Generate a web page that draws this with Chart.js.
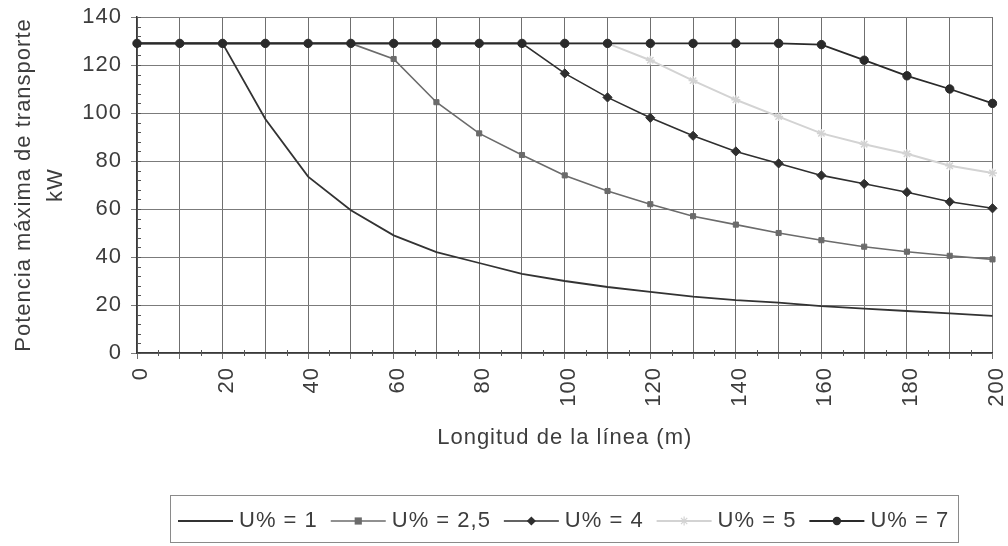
<!DOCTYPE html>
<html>
<head>
<meta charset="utf-8">
<script src="https://cdn.jsdelivr.net/npm/chart.js@4"></script>
<style>
  html, body { margin: 0; padding: 0; background: #fff; }
  canvas { display: block; }
</style>
</head>
<body>
<canvas id="chart" width="1008" height="546"></canvas>
<script>
'use strict';

// Longitud de la línea (m)
const LENGTHS = [0, 10, 20, 30, 40, 50, 60, 70, 80, 90, 100,
                 110, 120, 130, 140, 150, 160, 170, 180, 190, 200];

// Potencia máxima de transporte (kW), one list per voltage drop
const U_1   = [129, 129, 129, 97.5, 73.5, 59.5, 49, 42, 37.5, 33, 30,
               27.5, 25.5, 23.5, 22, 21, 19.5, 18.5, 17.5, 16.5, 15.5];
const U_2_5 = [129, 129, 129, 129, 129, 129, 122.5, 104.5, 91.5, 82.5, 74,
               67.5, 62, 57, 53.5, 50, 47, 44.3, 42.2, 40.5, 39];
const U_4   = [129, 129, 129, 129, 129, 129, 129, 129, 129, 129, 116.5,
               106.5, 98, 90.5, 84, 79, 74, 70.5, 67, 63, 60.3];
const U_5   = [129, 129, 129, 129, 129, 129, 129, 129, 129, 129, 129,
               129, 122, 113.5, 105.5, 98.5, 91.5, 87, 83, 78, 75];
const U_7   = [129, 129, 129, 129, 129, 129, 129, 129, 129, 129, 129,
               129, 129, 129, 129, 129, 128.5, 122, 115.5, 110, 104];

const SERIES_LABELS = ['U% = 1', 'U% = 2,5', 'U% = 4', 'U% = 5', 'U% = 7'];
const X_TITLE = 'Longitud de la línea (m)';
const Y_TITLE = ['Potencia máxima de transporte', 'kW'];
const PLATEAU = 129;

const FONT = '"Liberation Sans", Arial, sans-serif';
const TEXT = '#3d3d3d';

/** Draws one legend marker. */
function drawMarker(ctx, style, r, x, y, color) {
  ctx.save();
  ctx.fillStyle = color;
  ctx.strokeStyle = color;
  ctx.lineWidth = 1.2;
  ctx.beginPath();
  if (style === 'circle') {
    ctx.arc(x, y, r, 0, Math.PI * 2);
    ctx.fill();
  } else if (style === 'rect') {
    ctx.rect(x - r, y - r, r * 2, r * 2);
    ctx.fill();
  } else if (style === 'rectRot') {
    ctx.moveTo(x, y - r); ctx.lineTo(x + r, y); ctx.lineTo(x, y + r); ctx.lineTo(x - r, y);
    ctx.closePath();
    ctx.fill();
  } else if (style === 'star') {
    ctx.moveTo(x - r, y); ctx.lineTo(x + r, y);
    ctx.moveTo(x, y - r); ctx.lineTo(x, y + r);
    ctx.moveTo(x - r * 0.7, y - r * 0.7); ctx.lineTo(x + r * 0.7, y + r * 0.7);
    ctx.moveTo(x - r * 0.7, y + r * 0.7); ctx.lineTo(x + r * 0.7, y - r * 0.7);
    ctx.stroke();
  }
  ctx.restore();
}

/** Excel-like scanned text is loosely spaced */
const spacing = {
  id: 'spacing',
  beforeUpdate(chart) { chart.ctx.letterSpacing = '1px'; },
  beforeDraw(chart) { chart.ctx.letterSpacing = '1px'; },
};

/** Minor tick marks on both axes */
const minorTicks = {
  id: 'minorTicks',
  beforeDatasetsDraw(chart) {
    const { ctx, chartArea, scales: { x, y } } = chart;
    ctx.save();
    ctx.strokeStyle = '#555';
    ctx.lineWidth = 1;
    ctx.beginPath();
    for (let v = 0; v <= 140; v += 4) {
      const py = Math.round(y.getPixelForValue(v)) + 0.5;
      ctx.moveTo(chartArea.left, py);
      ctx.lineTo(chartArea.left + 4, py);
    }
    for (let i = 0; i < LENGTHS.length - 1; i++) {
      const px = Math.round((x.getPixelForValue(i) + x.getPixelForValue(i + 1)) / 2) + 0.5;
      ctx.moveTo(px, chartArea.bottom - 3);
      ctx.lineTo(px, chartArea.bottom + 3);
    }
    ctx.stroke();
    ctx.restore();
  },
};

/** Boxed legend with line + marker samples */
const legendBox = {
  id: 'legendBox',
  afterDraw(chart) {
    const { ctx } = chart;
    ctx.save();
    ctx.strokeStyle = '#8a8a8a';
    ctx.lineWidth = 1;
    ctx.strokeRect(170.5, 495.5, 788, 47);
    ctx.font = '22px ' + FONT;
    ctx.letterSpacing = '1px';
    ctx.textBaseline = 'middle';
    ctx.textAlign = 'left';
    const y = 521;
    let x = 178;
    chart.data.datasets.forEach((ds) => {
      ctx.strokeStyle = ds.borderColor;
      ctx.lineWidth = ds.borderWidth;
      ctx.beginPath();
      ctx.moveTo(x, y);
      ctx.lineTo(x + 55, y);
      ctx.stroke();
      if (ds.marker) drawMarker(ctx, ds.pointStyle, ds.markerRadius, x + 27.5, y, ds.borderColor);
      ctx.fillStyle = TEXT;
      ctx.fillText(ds.label, x + 61, y);
      x += 61 + ctx.measureText(ds.label).width + 13;
    });
    ctx.restore();
  },
};

function series(label, data, color, width, pointStyle, radius, order, topMost) {
  return {
    label,
    data,
    order,
    borderColor: color,
    backgroundColor: color,
    borderWidth: width,
    tension: 0,
    marker: !!pointStyle,
    markerRadius: radius,
    pointStyle: pointStyle || 'circle',
    pointBackgroundColor: color,
    pointBorderColor: color,
    pointBorderWidth: pointStyle === 'star' ? 1.5 : 1,
    // markers on the common plateau are hidden under the U% = 7 circles
    pointRadius: pointStyle
      ? (c) => (topMost || c.raw < PLATEAU ? radius : 0)
      : 0,
    pointHoverRadius: 0,
  };
}

const tickFont = { family: FONT, size: 22 };

new Chart(document.getElementById('chart'), {
  type: 'line',
  data: {
    labels: LENGTHS,
    datasets: [
      series(SERIES_LABELS[0], U_1,   '#333333', 1.8, null,      0,   4, false),
      series(SERIES_LABELS[1], U_2_5, '#6b6b6b', 1.6, 'rect',    3.6, 2, false),
      series(SERIES_LABELS[2], U_4,   '#2f2f2f', 1.6, 'rectRot', 4.6, 1, false),
      series(SERIES_LABELS[3], U_5,   '#d3d3d3', 2,   'star',    4.5, 3, false),
      series(SERIES_LABELS[4], U_7,   '#2a2a2a', 1.8, 'circle',  4.2, 0, true),
    ],
  },
  options: {
    responsive: false,
    animation: false,
    layout: { padding: { top: 17, right: 15.5, bottom: 90, left: 0 } },
    plugins: {
      legend: { display: false },
      tooltip: { enabled: false },
    },
    scales: {
      x: {
        type: 'category',
        offset: false,
        grid: { color: '#6f6f6f', lineWidth: 1, tickLength: 6 },
        border: { color: '#3a3a3a', width: 1.5 },
        ticks: {
          autoSkip: false,
          minRotation: 90,
          maxRotation: 90,
          padding: 8,
          labelOffset: 4,
          color: TEXT,
          font: tickFont,
          callback: (v, i) => (i % 2 === 0 ? String(LENGTHS[i]) : ''),
        },
        title: {
          display: true,
          text: X_TITLE,
          color: TEXT,
          font: { family: FONT, size: 22 },
          padding: { top: 0, bottom: 5 },
        },
        afterFit: (s) => {
          s.height = 103;
          s.paddingLeft = 0;
          s.paddingRight = 0;
        },
      },
      y: {
        min: 0,
        max: 140,
        grid: { color: '#7b7b7b', lineWidth: 1, tickLength: 6 },
        border: { color: '#3a3a3a', width: 1.5 },
        ticks: { stepSize: 20, padding: 9, color: TEXT, font: tickFont },
        title: {
          display: true,
          text: Y_TITLE,
          color: TEXT,
          font: { family: FONT, size: 22, lineHeight: 1.45 },
          padding: { top: 8, bottom: 0 },
        },
        afterFit: (s) => {
          s.width = 137;
          s.paddingTop = 0;
          s.paddingBottom = 0;
        },
      },
    },
  },
  plugins: [spacing, minorTicks, legendBox],
});
</script>
</body>
</html>
